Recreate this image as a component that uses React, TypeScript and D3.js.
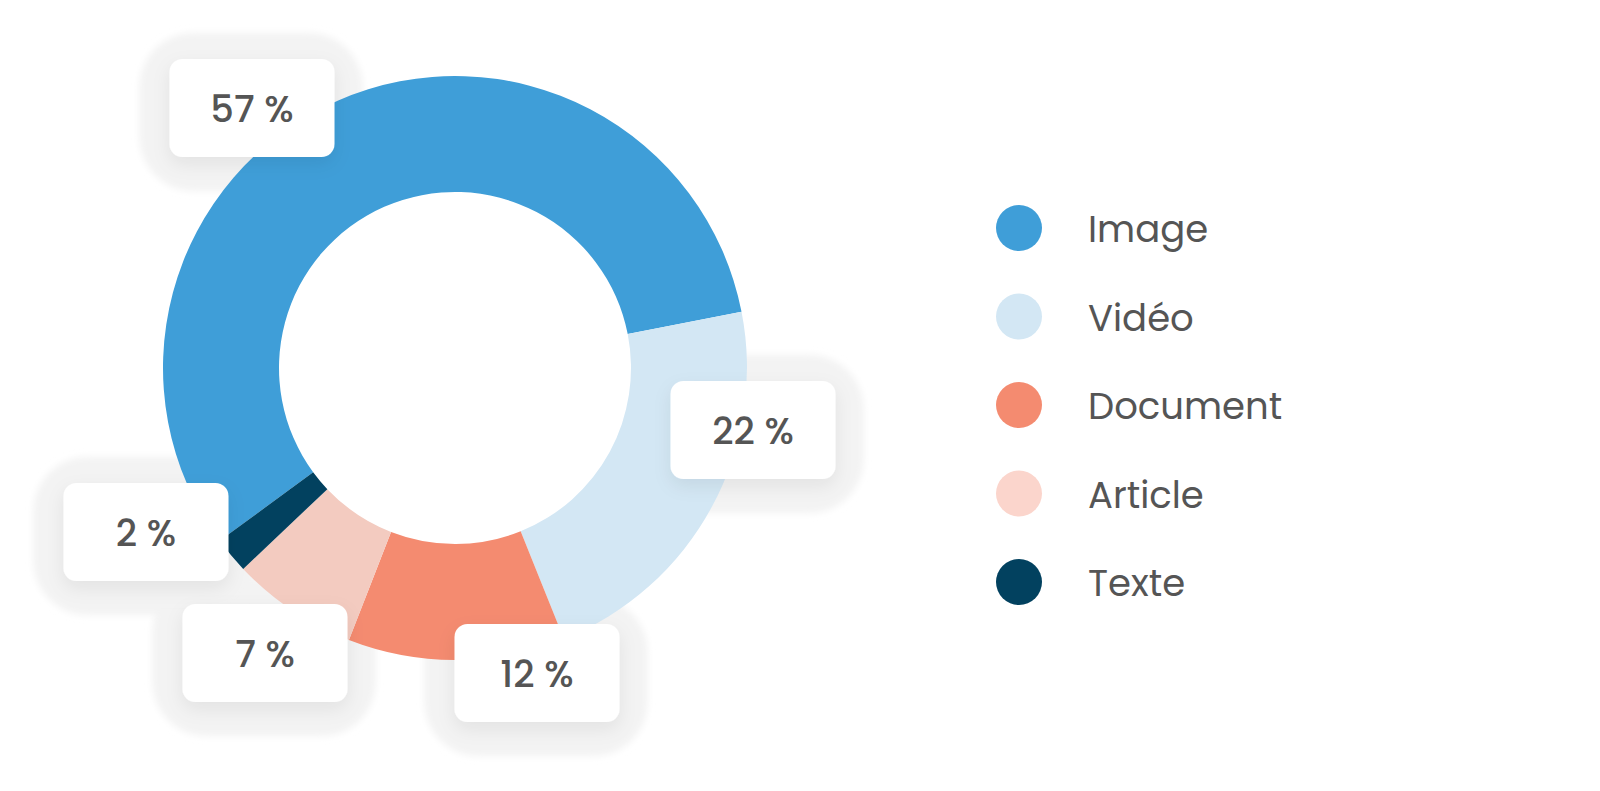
import React from "react";
import * as d3 from "d3";

const categories = ["Image", "Vidéo", "Document", "Article", "Texte"];
const values = [57, 22, 12, 7, 2];
const colors = ["#3f9ed8", "#d3e7f4", "#f48b70", "#f3cbc0", "#02415f"];
const legendColors = ["#3f9ed8", "#d3e7f4", "#f48b70", "#fbd5cc", "#02415f"];
const labelTexts = ["57 %", "22 %", "12 %", "7 %", "2 %"];

// layout: label box centers (px)
const labelCenters: [number, number][] = [
  [252, 108],
  [753, 430],
  [537, 673],
  [265, 653],
  [146, 532],
];

const W = 1600;
const H = 791;
const CX = 455;
const CY = 368;
const R_OUT = 292;
const R_IN = 176;
const START_DEG = -126.3;
const BOX_W = 165;
const BOX_H = 98;
const FONT = "Poppins, Inter, 'Noto Sans', sans-serif";

export default function App() {
  const start = (START_DEG * Math.PI) / 180;
  const pie = d3
    .pie<number>()
    .sort(null)
    .value((d) => d)
    .startAngle(start)
    .endAngle(start + 2 * Math.PI);
  const arcs = pie(values);
  const arcGen = d3.arc<d3.PieArcDatum<number>>().innerRadius(R_IN).outerRadius(R_OUT);

  const legendY = d3
    .scalePoint<string>()
    .domain(categories)
    .range([228, 582]);

  return (
    <svg width={W} height={H} style={{ position: "absolute", left: 0, top: 0, background: "#fff" }}>
      <defs>
        <filter id="halo" x="-50%" y="-50%" width="200%" height="200%">
          <feGaussianBlur stdDeviation="3.5" />
        </filter>
        <filter id="drop" x="-50%" y="-50%" width="200%" height="200%">
          <feDropShadow dx="0" dy="7" stdDeviation="9" floodColor="#000" floodOpacity="0.07" />
        </filter>
      </defs>
      <rect x={0} y={0} width={W} height={H} fill="#ffffff" />
      {/* halos */}
      <g>
        {labelCenters.map(([x, y], i) => (
          <rect
            key={"h" + i}
            x={x - BOX_W / 2 - 30}
            y={y - BOX_H / 2 - 26}
            width={BOX_W + 58}
            height={BOX_H + 60}
            rx={54}
            fill="#f3f3f3"
            filter="url(#halo)"
          />
        ))}
      </g>
      {/* donut */}
      <g transform={`translate(${CX},${CY})`}>
        {arcs.map((a, i) => (
          <path key={categories[i]} d={arcGen(a) || ""} fill={colors[i]} />
        ))}
      </g>
      {/* label boxes */}
      <g>
        {labelCenters.map(([x, y], i) => (
          <g key={"b" + i}>
            <rect
              x={x - BOX_W / 2}
              y={y - BOX_H / 2}
              width={BOX_W}
              height={BOX_H}
              rx={13}
              fill="#ffffff"
              filter="url(#drop)"
            />
            <text
              x={x}
              y={y + 14}
              textAnchor="middle"
              fontFamily={FONT}
              fontSize={37}
              fontWeight={500}
              fill="#555555"
            >
              {labelTexts[i]}
            </text>
          </g>
        ))}
      </g>
      {/* legend */}
      <g>
        {categories.map((c, i) => (
          <g key={"l" + c}>
            <circle cx={1019} cy={legendY(c)} r={23} fill={legendColors[i]} />
            <text
              x={1088}
              y={(legendY(c) || 0) + 14}
              fontFamily={FONT}
              fontSize={37}
              fill="#555555"
            >
              {c}
            </text>
          </g>
        ))}
      </g>
    </svg>
  );
}
